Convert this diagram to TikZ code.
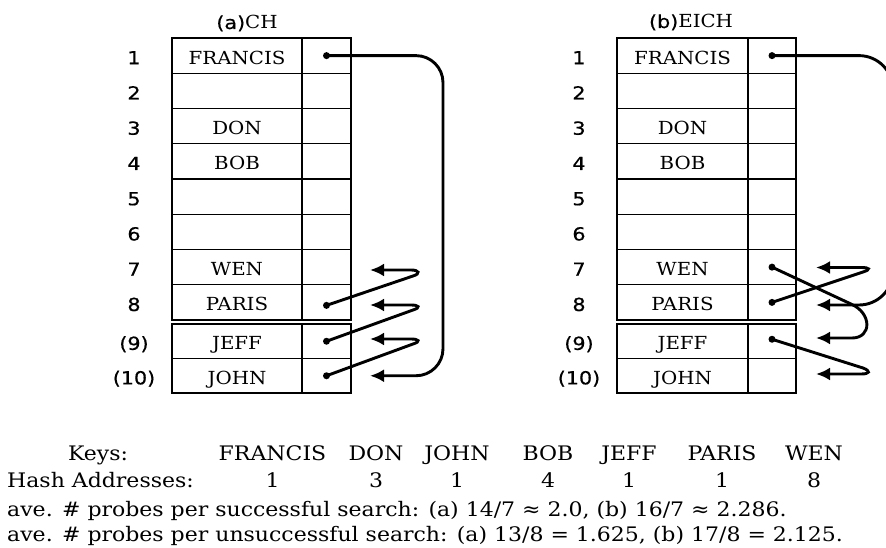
\documentclass[tikz,border=0pt]{standalone}
\usepackage{fontspec}
\setmainfont{DejaVu Serif}
\newfontfamily\widefont[FakeStretch=1.1]{DejaVu Serif}
\newfontfamily\numfont[FakeStretch=1.15,FakeBold=0.6]{DejaVu Sans}
\usetikzlibrary{arrows.meta}
\begin{document}
\begin{tikzpicture}[x=1pt,y=-1pt,
  cellbox/.style={draw, line width=1.3pt, inner sep=0pt, minimum height=35.25pt,
    text height=17.2pt, text depth=0pt, font=\widefont\fontsize{18}{20}\selectfont},
  keycellA/.style={cellbox, minimum width=130pt},
  ptrcellA/.style={cellbox, minimum width=49pt},
  keycellB/.style={cellbox, minimum width=131pt},
  ptrcellB/.style={cellbox, minimum width=48pt},
  rowlab/.style={inner sep=0pt, text height=17.2pt, text depth=0pt, font=\numfont\fontsize{18}{20}\selectfont},
  titletxt/.style={inner sep=0pt, anchor=base, font=\widefont\fontsize{18}{20}\selectfont},
  bottxt/.style={inner sep=0pt, anchor=base, font=\widefont\fontsize{20}{22}\selectfont},
  link/.style={line width=2.9pt, -{Latex[length=14pt,width=13pt]}},
  ptrdot/.style={circle, fill, inner sep=0pt, minimum size=7pt}
]
\useasboundingbox (0,0) rectangle (886,548);

% ---------- table (a) ----------
\node[titletxt] (atitle) at (247,29) {{\numfont(a)}CH};
\foreach \k/\y/\h/\key/\lab in {1/55.625/35.25/FRANCIS/1, 2/90.875/35.25/{}/2,
   3/126.125/35.25/DON/3, 4/161.375/35.25/BOB/4, 5/196.625/35.25/{}/5,
   6/231.875/35.25/{}/6, 7/267.125/35.25/WEN/7, 8/302.375/35.25/PARIS/8,
   9/341.25/34.5/JEFF/(9), 10/375.75/34.5/JOHN/(10)} {
  \node[keycellA, minimum height=\h pt] (aK\k) at (237,\y) {\key};
  \node[ptrcellA, minimum height=\h pt] (aP\k) at (326.5,\y) {};
  \node[rowlab] (aL\k) at (134,\y) {\lab};
}
\node[ptrdot] (aD1) at (aP1.center) {};
\node[ptrdot] (aD8) at ([yshift=-3pt]aP8.center) {};
\node[ptrdot] (aD9) at (aP9.center) {};
\node[ptrdot] (aD10) at (aP10.center) {};
\coordinate (aT7) at (370,270);
\coordinate (aT8) at (370,305);
\coordinate (aT9) at (370,339);
\coordinate (aT10) at (370,375.75);
\coordinate (aR1) at (443,55.625);
\coordinate (aR2) at (443,375.75);

\draw[link, rounded corners=27pt] (aD1.center) -- (aR1) -- (aR2) -- (aT10);
\draw[link] (aD8.center) -- (413,276) .. controls (421,273.6) and (419,270) .. (411,270) -- (aT7);
\draw[link] (aD9.center) -- (413,310) .. controls (421,307.6) and (419,305) .. (411,305) -- (aT8);
\draw[link] (aD10.center) -- (413,344) .. controls (421,341.6) and (419,339) .. (411,339) -- (aT9);

% ---------- table (b) ----------
\node[titletxt] (btitle) at (691,28) {{\numfont(b)}EICH};
\foreach \k/\y/\h/\key/\lab in {1/55.625/35.25/FRANCIS/1, 2/90.875/35.25/{}/2,
   3/126.125/35.25/DON/3, 4/161.375/35.25/BOB/4, 5/196.625/35.25/{}/5,
   6/231.875/35.25/{}/6, 7/267.125/35.25/WEN/7, 8/302.375/35.25/PARIS/8,
   9/341.25/34.5/JEFF/(9), 10/375.75/34.5/JOHN/(10)} {
  \node[keycellB, minimum height=\h pt] (bK\k) at (682.5,\y) {\key};
  \node[ptrcellB, minimum height=\h pt] (bP\k) at (772,\y) {};
  \node[rowlab] (bL\k) at (579,\y) {\lab};
}
\node[ptrdot] (bD1) at (bP1.center) {};
\node[ptrdot] (bD7) at (bP7.center) {};
\node[ptrdot] (bD8) at (bP8.center) {};
\node[ptrdot] (bD9) at ([yshift=2pt]bP9.center) {};
\coordinate (bT7) at (816,267.5);
\coordinate (bT8) at (816,305);
\coordinate (bT9) at (816,338);
\coordinate (bT10) at (816,374);
\coordinate (bR1) at (893,55.625);
\coordinate (bR2) at (893,305);

\draw[link, rounded corners=34pt] (bD1.center) -- (bR1) -- (bR2) -- (bT8);
\draw[link] (bD7.center) -- (851,304) .. controls (872,313) and (872,338) .. (852,338) -- (bT9);
\draw[link] (bD8.center) -- (863,272) .. controls (871,269.5) and (870,267.5) .. (861,267.5) -- (bT7);
\draw[link] (bD9.center) -- (863,368) .. controls (871,371) and (870,374) .. (861,374) -- (bT10);

% ---------- bottom text ----------
\node[bottxt] (keys) at (98,460) {Keys:};
\node[bottxt, anchor=base west] (hash) at (7,487) {Hash Addresses:};
\foreach \n/\x/\key/\h in {1/272.5/FRANCIS/1, 2/376/DON/3, 3/457/JOHN/1, 4/548/BOB/4,
   5/629/JEFF/1, 6/722/PARIS/1, 7/814/WEN/8} {
  \node[bottxt] (key\n) at (\x,460) {\key};
  \node[bottxt] (ha\n) at (\x,487) {\h};
}
\node[bottxt, anchor=base west] (succ) at (7,516) {ave. \# probes per successful search: (a) 14/7 ≈ 2.0, (b) 16/7 ≈ 2.286.};
\node[bottxt, anchor=base west] (unsucc) at (7,541) {ave. \# probes per unsuccessful search: (a) 13/8 = 1.625, (b) 17/8 = 2.125.};
\end{tikzpicture}
\end{document}
